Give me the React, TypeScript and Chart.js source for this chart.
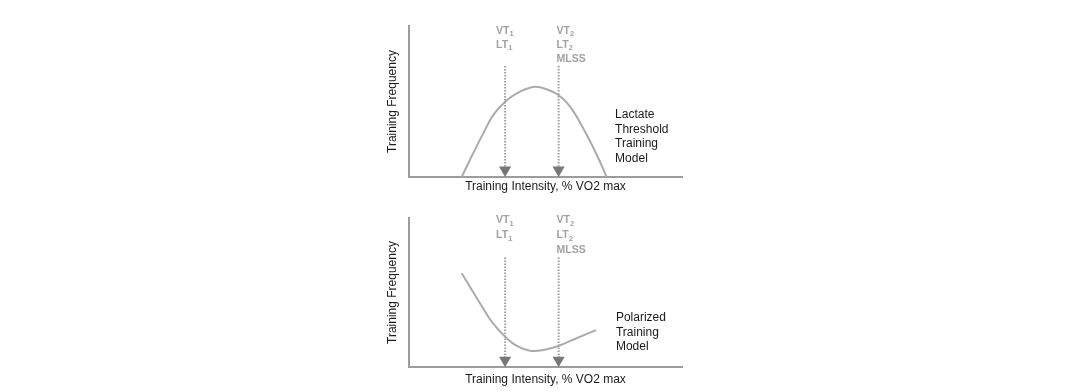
import React, { useEffect, useRef } from "react";
import { Chart, registerables } from "chart.js";

Chart.register(...registerables);

// ---------- data ----------
const xTitle = "Training Intensity, % VO2 max";
const yTitle = "Training Frequency";

// threshold intensities (x, % of scale)
const thresholdX = [35.2, 54.8];
const thresholdLabels1 = ["VT_1", "LT_1"];
const thresholdLabels2 = ["VT_2", "LT_2", "MLSS"];
const arrowTopY = 73.5;
const arrowHeadY = 4.6;

// Lactate threshold training model curve
const lactateX = [19.3, 22.3, 27.2, 30.9, 35.2, 39.5, 44.9, 48.6, 54.7, 59.0, 63.8, 68.8, 72.4];
const lactateY = [0, 11.3, 28.9, 41.1, 49.9, 55.4, 59.4, 59.1, 54.3, 46.6, 32.3, 14.6, 0];
const lactateCaption = ["Lactate", "Threshold", "Training", "Model"];
const lactateCaptionPos = [75.5, 41];

// Polarized training model curve
const polarX = [19.3, 22.3, 26.0, 30.3, 35.2, 39.5, 44.3, 49.2, 54.7, 61.4, 68.5];
const polarY = [62.9, 53.9, 42.8, 30.4, 20.3, 14.1, 10.9, 11.4, 14.1, 19.3, 24.8];
const polarCaption = ["Polarized", "Training", "Model"];
const polarCaptionPos = [75.8, 32.9];

const FONT = "'Liberation Sans', Arial, Helvetica, sans-serif";

const overlayPlugin = {
  id: "overlay",
  afterDatasetsDraw(chart: any, _args: any, opts: any) {
    const ctx = chart.ctx;
    const xs = chart.scales.x;
    const ys = chart.scales.y;
    ctx.save();
    // threshold labels
    const groups = [thresholdLabels1, thresholdLabels2];
    const dx = [-9, -2];
    groups.forEach((labels, i) => {
      const px = xs.getPixelForValue(thresholdX[i]) + dx[i];
      const top = ys.getPixelForValue(arrowTopY);
      labels.forEach((lab, j) => {
        const y = top - opts.labelStart + opts.labelStep * j;
        const [main, sub] = lab.split("_");
        ctx.fillStyle = "#a2a2a2";
        ctx.textAlign = "left";
        ctx.textBaseline = "middle";
        ctx.font = `bold 10.5px ${FONT}`;
        ctx.fillText(main, px, y);
        if (sub) {
          const w = ctx.measureText(main).width;
          ctx.font = `bold 7.5px ${FONT}`;
          ctx.fillText(sub, px + w, y + 3);
        }
      });
    });
    // caption
    ctx.fillStyle = "#1a1a1a";
    ctx.font = `12px ${FONT}`;
    ctx.textAlign = "left";
    ctx.textBaseline = "middle";
    const cx = xs.getPixelForValue(opts.captionPos[0]);
    const cy = ys.getPixelForValue(opts.captionPos[1]);
    opts.caption.forEach((line: string, k: number) => {
      ctx.fillText(line, cx, cy + k * 14.4);
    });
    ctx.restore();
  },
};

function makeConfig(
  cx: number[],
  cy: number[],
  caption: string[],
  captionPos: number[],
  padding: any,
  xTitlePadTop: number,
  labelStart: number,
  labelStep: number
): any {
  const curve = cx.map((x, i) => ({ x, y: cy[i] }));
  const thresholdSets = thresholdX.map((tx) => ({
    data: [
      { x: tx, y: arrowTopY },
      { x: tx, y: arrowHeadY },
    ],
    showLine: true,
    borderColor: "#a0a0a0",
    borderWidth: 2,
    borderDash: [1.5, 1.5],
    pointRadius: [0, 7],
    pointStyle: "triangle",
    rotation: 180,
    pointBackgroundColor: "#777777",
    pointBorderWidth: 0,
    pointBorderColor: "#777777",
  }));
  return {
    type: "scatter",
    data: {
      datasets: [
        ...thresholdSets,
        {
          data: curve,
          showLine: true,
          borderColor: "#ababab",
          borderWidth: 2,
          pointRadius: 0,
          tension: 0.4,
          fill: false,
        },
      ],
    },
    options: {
      responsive: false,
      animation: false,
      events: [],
      layout: { padding, autoPadding: false },
      plugins: {
        legend: { display: false },
        tooltip: { enabled: false },
        overlay: { caption, captionPos, labelStart, labelStep },
      },
      scales: {
        x: {
          type: "linear",
          min: 0,
          max: 100,
          grid: { display: false, drawTicks: false },
          ticks: { display: false },
          border: { display: true, color: "#9c9c9c", width: 2 },
          title: {
            display: true,
            text: xTitle,
            color: "#1a1a1a",
            font: { family: FONT, size: 12 },
            padding: { top: xTitlePadTop, bottom: 0 },
          },
        },
        y: {
          type: "linear",
          min: 0,
          max: 100,
          grid: { display: false, drawTicks: false },
          ticks: { display: false },
          border: { display: true, color: "#9c9c9c", width: 2 },
          title: {
            display: true,
            text: yTitle,
            color: "#1a1a1a",
            font: { family: FONT, size: 12 },
            padding: { top: 0, bottom: 9.6 },
          },
        },
      },
    },
    plugins: [overlayPlugin],
  };
}

export default function App() {
  const topRef = useRef<HTMLCanvasElement>(null);
  const botRef = useRef<HTMLCanvasElement>(null);

  useEffect(() => {
    const c1 = new Chart(
      topRef.current as HTMLCanvasElement,
      makeConfig(
        lactateX,
        lactateY,
        lactateCaption,
        lactateCaptionPos,
        { left: 385, right: 386, top: 26, bottom: 2.5 },
        2.1,
        35,
        14
      )
    );
    const c2 = new Chart(
      botRef.current as HTMLCanvasElement,
      makeConfig(
        polarX,
        polarY,
        polarCaption,
        polarCaptionPos,
        { left: 385, right: 386, top: 22, bottom: 4.8 },
        5.8,
        37,
        15
      )
    );
    return () => {
      c1.destroy();
      c2.destroy();
    };
  }, []);

  return (
    <div
      style={{
        position: "absolute",
        left: 0,
        top: 0,
        width: 1068,
        height: 392,
        overflow: "hidden",
        background: "#ffffff",
      }}
    >
      <canvas
        ref={topRef}
        width={1068}
        height={196}
        style={{ position: "absolute", left: 0, top: 0 }}
      />
      <canvas
        ref={botRef}
        width={1068}
        height={196}
        style={{ position: "absolute", left: 0, top: 196 }}
      />
    </div>
  );
}
